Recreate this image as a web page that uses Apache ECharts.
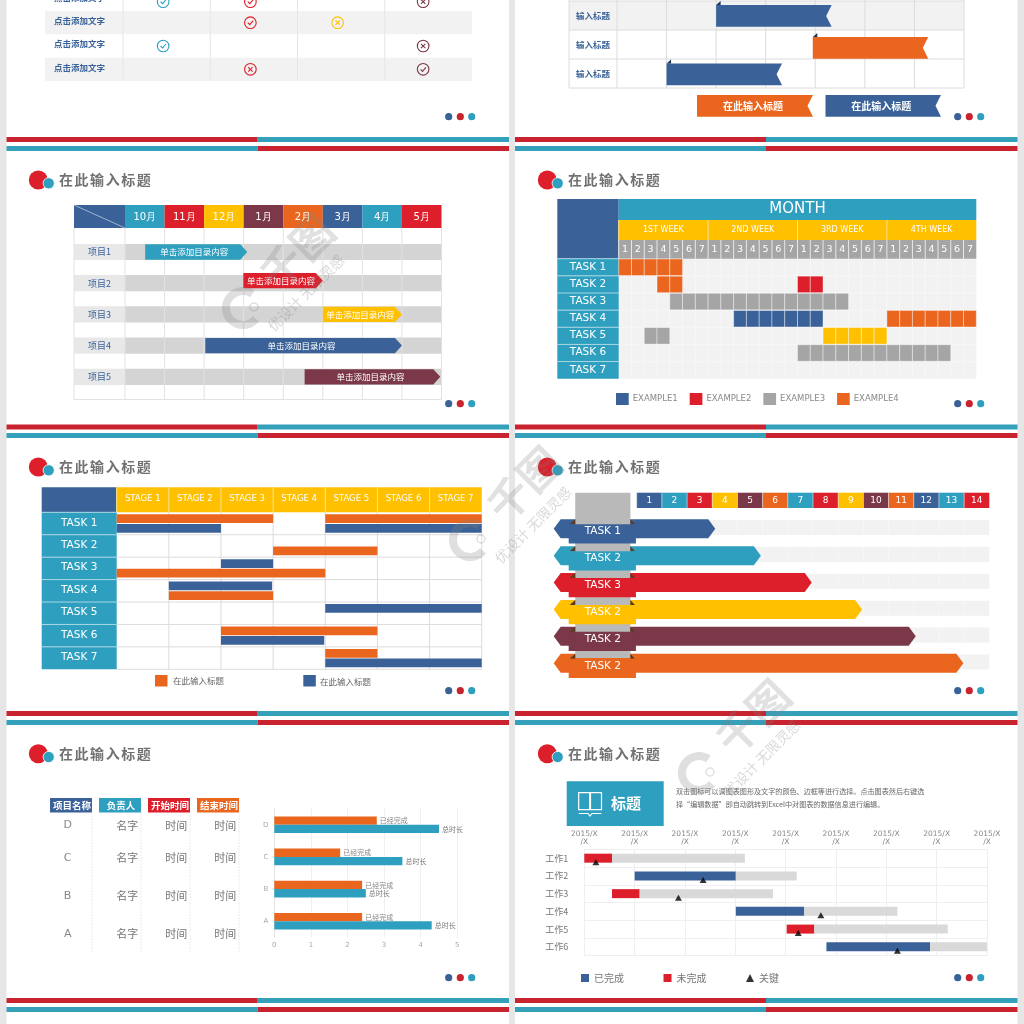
<!DOCTYPE html>
<html><head><meta charset="utf-8">
<style>html,body{margin:0;padding:0;background:#e6e6e6}#c{width:1024px;height:1024px}</style>
<script src="https://cdn.jsdelivr.net/npm/echarts@6/dist/echarts.min.js"></script>
</head><body><div id="c"></div>
<script>
// ---------- palette ----------
const BLUE='#3a6299',TEAL='#2e9fbf',RED='#dc1f2a',YEL='#ffc000',MAR='#7a3848',ORG='#ea661e',GRY='#a5a5a5';
const CJK='"Noto Sans CJK SC"',LAT='"DejaVu Sans"';
// ---------- panel A: status table ----------
const statusLabels=['点击添加文字','点击添加文字','点击添加文字','点击添加文字'];
const statusMarks=[[0,0.1,1,TEAL],[1,0.1,1,RED],[3,0.1,0,MAR],[1,1,1,RED],[2,1,0,YEL],[0,2,1,TEAL],[3,2,0,MAR],[1,3,0,RED],[3,3,1,MAR]];
// ---------- panel B: ribbon gantt ----------
const ribbonLabels=['输入标题','输入标题','输入标题'];
const ribbonBars=[[2,4.33,0.14,BLUE],[3.95,6.28,1.24,ORG],[1,3.33,2.155,BLUE]];
const ribbonLegend=[[1.614,3.954,3.24,ORG],[4.206,6.536,3.24,BLUE]];
// ---------- panel C: month gantt ----------
const months=['10月','11月','12月','1月','2月','3月','4月','5月'];
const monthColors=[TEAL,RED,YEL,MAR,ORG,BLUE,TEAL,RED];
const projects=['项目1','项目2','项目3','项目4','项目5'];
const projectBars=[[0.51,3.09,0,TEAL],[2.99,5,0.92,RED],[5,7,2,YEL],[2.03,7,3,BLUE],[4.54,7.97,4,MAR]];
const projectText='单击添加目录内容';
// ---------- panel D: day grid gantt ----------
const weeks=['1ST WEEK','2ND WEEK','3RD WEEK','4TH WEEK'];
const dayLabels=[1,2,3,4,5,6,7];
const tasks7=['TASK 1','TASK 2','TASK 3','TASK 4','TASK 5','TASK 6','TASK 7'];
const dayBlue=[[3,9,16]];
const dayRed=[[1,14,16]];
const dayGray=[[2,4,18],[4,2,4],[5,14,26]];
const dayOrange=[[0,0,5],[1,3,5],[3,21,28]];
const dayYellow=[[4,16,21]];
// ---------- panel E: stage gantt ----------
const stages=['STAGE 1','STAGE 2','STAGE 3','STAGE 4','STAGE 5','STAGE 6','STAGE 7'];
const stageOrange=[[0,0,3,-1],[0,4,7,-1],[1,3,5,1],[2,0,4,1],[3,1,3,1],[5,2,5,-1],[6,4,5,-1]];
const stageBlue=[[0,0,2,1],[0,4,7,1],[2,2,3,-1],[3,1,2.98,-1],[4,4,7,-1],[5,2,3.98,1],[6,4,7,1]];
// ---------- panel F: arrows ----------
const numbers=[1,2,3,4,5,6,7,8,9,10,11,12,13,14];
const numberColors=[BLUE,TEAL,RED,YEL,MAR,ORG,TEAL,RED,YEL,MAR,ORG,BLUE,TEAL,RED];
const arrowNames=['TASK 1','TASK 2','TASK 3','TASK 2','TASK 2','TASK 2'];
const arrowEnds=[3.12,4.93,6.95,8.95,11.08,12.97];
const arrowColors=[BLUE,TEAL,RED,YEL,MAR,ORG];
// ---------- panel G: table + bar chart ----------
const tableHead=['项目名称','负责人','开始时间','结束时间'];
const tableHeadColors=[BLUE,TEAL,RED,ORG];
const tableNames=['D','C','B','A'];
const tablePeople=['名字','名字','名字','名字'];
const tableTime=['时间','时间','时间','时间'];
const barCats=['A','B','C','D'];
const barDone=[2.4,2.4,1.8,2.8];
const barTotal=[4.3,2.5,3.5,4.5];
// ---------- panel H: work gantt ----------
const workCats=['工作1','工作2','工作3','工作4','工作5','工作6'];
const workTicks=['2015/X\n/X','2015/X\n/X','2015/X\n/X','2015/X\n/X','2015/X\n/X','2015/X\n/X','2015/X\n/X','2015/X\n/X','2015/X\n/X'];
const workStart=[0,1,0.55,3.01,4.02,4.81];
const workDone=[0,2.01,0,1.36,0,2.06];
const workTodo=[0.55,0,0.55,0,0.55,0];
const workRest=[2.64,1.21,2.65,1.85,2.65,1.15];
const workKey=[0.23,2.36,1.87,4.7,4.25,6.22];

// ---------- helpers ----------
const grids=[],xAxes=[],yAxes=[],series=[];
function addGrid(l,t,w,h,x0,x1,y0,y1){
  grids.push({left:l,top:t,width:w,height:h,containLabel:false});
  const i=grids.length-1;
  xAxes.push({type:'value',gridIndex:i,min:x0,max:x1,show:false,splitLine:{show:false}});
  yAxes.push({type:'value',gridIndex:i,min:y0,max:y1,inverse:true,show:false,splitLine:{show:false}});
  return i;
}
function cs(name,g,rows,draw,color,z){
  series.push({type:'custom',name,xAxisIndex:g,yAxisIndex:g,coordinateSystem:'cartesian2d',silent:true,clip:false,z:z||2,
    itemStyle:{color:color||'#999'},data:rows,
    renderItem:(p,api)=>({type:'group',children:draw(rows[p.dataIndex],p.dataIndex,(x,y)=>api.coord([x,y]))})});
}
function R(c,x0,x1,y0,y1,fill){const a=c(x0,y0),b=c(x1,y1);return {type:'rect',shape:{x:a[0],y:a[1],width:b[0]-a[0],height:b[1]-a[1]},style:{fill}};}
function L(c,x0,y0,x1,y1,stroke,w,dash){const a=c(x0,y0),b=c(x1,y1);return {type:'line',shape:{x1:a[0],y1:a[1],x2:b[0],y2:b[1]},style:{stroke,lineWidth:w||1,lineDash:dash||null}};}
function T(c,text,x,y,o){o=o||{};const a=c(x,y);return {type:'text',style:{text:String(text),x:a[0],y:a[1],fill:o.fill||'#fff',fontSize:o.size||9,fontFamily:o.family||CJK,fontWeight:o.weight||'normal',align:o.align||'center',verticalAlign:'middle'}};}
function P(points,fill){return {type:'polygon',shape:{points},style:{fill}};}

// ---------- panel A ----------
(function(){
  const g=addGrid(45,0,427,81,-0.894,4,0.528,4);
  cs('statusBands',g,[[1,0],[3,0]],(d,i,c)=>[R(c,-0.894,4,d[0],d[0]+1,'#f2f2f2')]);
  cs('statusLines',g,[[0,0],[1,0],[2,0],[3,0]],(d,i,c)=>[L(c,d[0],0.5,d[0],4,'#e6e6e6')]);
  cs('statusLabels',g,statusLabels.map((s,i)=>[i,0]),(d,i,c)=>[T(c,statusLabels[i],-0.79,d[0]+0.42,{fill:BLUE,size:8.5,weight:'bold',align:'left'})]);
  cs('statusMarks',g,statusMarks,(d,i,c)=>{
    const p=c(d[0]+0.46+(d[0]==3?-0.02:0),d[1]+0.5),col=d[3],r=5.8;
    const ring={type:'circle',shape:{cx:p[0],cy:p[1],r},style:{fill:'none',stroke:col,lineWidth:1.1}};
    const st={stroke:col,lineWidth:1.1,fill:'none'};
    if(d[2]) return [ring,{type:'polyline',shape:{points:[[p[0]-2.6,p[1]],[p[0]-0.6,p[1]+2],[p[0]+2.8,p[1]-2]]},style:st}];
    return [ring,{type:'line',shape:{x1:p[0]-2.2,y1:p[1]-2.2,x2:p[0]+2.2,y2:p[1]+2.2},style:st},{type:'line',shape:{x1:p[0]-2.2,y1:p[1]+2.2,x2:p[0]+2.2,y2:p[1]-2.2},style:st}];
  },'#999',3);
})();

// ---------- panel B ----------
(function(){
  const g=addGrid(569,1,395,116,-0.968,7,0,4);
  cs('ribbonBand',g,[[0,0]],(d,i,c)=>[R(c,-0.968,7,0,1,'#f2f2f2')]);
  cs('ribbonLines',g,[[0,0]],(d,i,c)=>{const o=[];
    for(let r=0;r<=3;r++)o.push(L(c,-0.968,r,7,r,'#dcdcdc'));
    [-0.968,0,1,2,3,4,5,6,7].forEach(x=>o.push(L(c,x,-0.1,x,3,'#dcdcdc')));return o;});
  cs('ribbonLabels',g,ribbonLabels.map((s,i)=>[i,0]),(d,i,c)=>[T(c,ribbonLabels[i],-0.484,d[0]+0.5,{fill:BLUE,size:8.5,weight:'bold'})]);
  function rib(d,withFlag,label){
    return (c)=>{const a=c(d[0],d[2]),b=c(d[1],d[2]+0.75),my=(a[1]+b[1])/2,o=[];
      o.push(P([[a[0],a[1]],[b[0],a[1]],[b[0]-5.5,my],[b[0],b[1]],[a[0],b[1]]],d[3]));
      if(withFlag)o.push(P([[a[0],a[1]],[a[0]+4.5,a[1]-4],[a[0]+4.5,a[1]]],'#1d3557'));
      if(label)o.push({type:'text',style:{text:label,x:(a[0]+b[0])/2-2,y:my,fill:'#fff',fontSize:10,fontWeight:'bold',fontFamily:CJK,align:'center',verticalAlign:'middle'}});
      return o;};
  }
  cs('ribbonBars',g,ribbonBars,(d,i,c)=>rib(d,true)(c),BLUE,3);
  cs('ribbonLegend',g,ribbonLegend,(d,i,c)=>rib(d,false,'在此输入标题')(c),BLUE,3);
})();

// ---------- panel C ----------
(function(){
  const xm=-1.289,g=addGrid(74,205,367.5,194.5,xm,8,-1.006,5.228);
  cs('projBands',g,projects.map((s,i)=>[i,0]),(d,i,c)=>[
    R(c,xm,0,d[0]+0.24,d[0]+0.76,'#e8e8e8'),R(c,0,8,d[0]+0.24,d[0]+0.76,'#d4d4d4'),
    T(c,projects[i],xm/2,d[0]+0.5,{fill:BLUE,size:9})]);
  cs('projLines',g,[[0,0]],(d,i,c)=>{const o=[];
    [xm,0,1,2,3,4,5,6,7,8].forEach(x=>o.push(L(c,x,-0.27,x,5.228,'#e2e2e2')));
    o.push(L(c,xm,5.228,8,5.228,'#e2e2e2'));return o;},'#999',3);
  cs('projCorner',g,[[0,0]],(d,i,c)=>[R(c,xm,0,-1.006,-0.269,BLUE),L(c,xm,-1.006,0,-0.269,'#9fb4d0')],BLUE,3);
  cs('months',g,months.map((s,i)=>[i,0]),(d,i,c)=>[R(c,d[0],d[0]+1,-1.006,-0.269,monthColors[i]),
    T(c,months[i],d[0]+0.5,-0.62,{size:10,family:LAT})],TEAL,3);
  cs('projBars',g,projectBars,(d,i,c)=>{const a=c(d[0],d[2]+0.255),b=c(d[1],d[2]+0.745),my=(a[1]+b[1])/2;
    return [P([[a[0],a[1]],[b[0]-7,a[1]],[b[0],my],[b[0]-7,b[1]],[a[0],b[1]]],d[3]),
      {type:'text',style:{text:projectText,x:(a[0]+b[0])/2-2,y:my,fill:'#fff',fontSize:8.5,fontFamily:CJK,align:'center',verticalAlign:'middle'}}];},TEAL,4);
})();

// ---------- panel D ----------
(function(){
  const xm=-4.808,ym=-3.483,g=addGrid(557.3,199,419,179.7,xm,28,ym,7);
  cs('dayBg',g,[[0,0]],(d,i,c)=>{const o=[R(c,0,28,0,7,'#f2f2f2')];
    for(let x=1;x<28;x++)o.push(L(c,x,0,x,7,'#f7f7f7',1));
    for(let y=1;y<7;y++)o.push(L(c,0,y,28,y,'#f7f7f7',1));
    o.push(R(c,xm,0,ym,0,BLUE));
    o.push(R(c,0,28,ym,-2.26,TEAL));
    o.push(T(c,'MONTH',14,-2.87,{size:15,family:LAT}));
    o.push(R(c,0,28,-2.26,-1.09,YEL));
    o.push(R(c,0,28,-1.09,0,GRY));
    return o;});
  cs('dayWeeks',g,weeks.map((s,i)=>[i,0]),(d,i,c)=>[L(c,d[0]*7,-2.26,d[0]*7,-1.09,'#ffe28a'),
    T(c,weeks[i],d[0]*7+3.5,-1.67,{size:8,family:LAT})],YEL,3);
  const days=[];for(let w=0;w<4;w++)dayLabels.forEach(n=>days.push([w*7+n-1,n]));
  cs('dayNums',g,days,(d,i,c)=>[L(c,d[0],-1.09,d[0],0,'#e8e8e8'),T(c,d[1],d[0]+0.5,-0.54,{size:9.5,family:LAT})],GRY,3);
  cs('dayTasks',g,tasks7.map((s,i)=>[i,0]),(d,i,c)=>[R(c,xm,0,d[0],d[0]+1,TEAL),L(c,xm,d[0],0,d[0],'#a9d6e4'),
    T(c,tasks7[i],xm/2,d[0]+0.48,{size:10.5,family:LAT})],TEAL,3);
  function cells(name,rows,color){
    cs(name,g,rows,(d,i,c)=>{const o=[];for(let x=d[1];x<d[2];x++){const r=R(c,x,x+1,d[0],d[0]+1,color);r.style.stroke='#fff';r.style.lineWidth=0.4;r.shape.y+=0.3;r.shape.height-=0.6;o.push(r);}return o;},color,4);
  }
  cells('EXAMPLE1',dayBlue,BLUE);cells('EXAMPLE2',dayRed,RED);cells('EXAMPLE3',dayGray,GRY);cells('EXAMPLE4',dayOrange,ORG);cells('EXAMPLE5',dayYellow,YEL);
})();

// ---------- panel E ----------
(function(){
  const xm=-1.438,ym=-1.115,g=addGrid(41.7,487.3,440,182,xm,7,ym,7);
  cs('stageLines',g,[[0,0]],(d,i,c)=>{const o=[];
    for(let y=1;y<=7;y++)o.push(L(c,0,y,7,y,'#dcdcdc',1));
    for(let x=1;x<=7;x++)o.push(L(c,x,0,x,7,'#dcdcdc',1));return o;});
  cs('stageCorner',g,[[0,0]],(d,i,c)=>[R(c,xm,0,ym,0,BLUE)],BLUE,3);
  cs('stages',g,stages.map((s,i)=>[i,0]),(d,i,c)=>[R(c,d[0],d[0]+1,ym,0,YEL),L(c,d[0],ym,d[0],0,'#ffe28a'),
    T(c,stages[i],d[0]+0.5,-0.6,{size:8.5,family:LAT})],YEL,3);
  cs('stageTasks',g,tasks7.map((s,i)=>[i,0]),(d,i,c)=>[R(c,xm,0,d[0],d[0]+1,TEAL),L(c,xm,d[0],0,d[0],'#a9d6e4'),
    T(c,tasks7[i],xm/2,d[0]+0.47,{size:10.5,family:LAT})],TEAL,3);
  const bar=col=>(d,i,c)=>{const m=d[0]+0.5+d[3]*0.215;return [R(c,d[1],d[2],m-0.195,m+0.195,col)];};
  cs('在此输入标题',g,stageOrange,bar(ORG),ORG,4);
  cs('在此输入标题B',g,stageBlue,bar(BLUE),BLUE,4);
})();

// ---------- panel F ----------
(function(){
  const xm=-3.295,g=addGrid(553.7,492.7,435.6,184,xm,14,-0.845,6);
  cs('numCells',g,numbers.map((s,i)=>[i,0]),(d,i,c)=>[R(c,d[0],d[0]+1,-0.845,-0.276,numberColors[i]),L(c,d[0],-0.845,d[0],-0.276,'#e8e8e8',0.6),
    T(c,numbers[i],d[0]+0.5,-0.55,{size:9,family:LAT})],BLUE);
  cs('numTracks',g,arrowEnds.map((s,i)=>[i,0]),(d,i,c)=>{const o=[R(c,0,14,d[0]+0.17,d[0]+0.73,'#f2f2f2')];
    for(let x=1;x<14;x++)o.push(L(c,x,d[0]+0.17,x,d[0]+0.73,'#f6f6f6'));return o;});
  cs('arrows',g,arrowEnds.map((e,i)=>[e,i]),(d,i,c)=>{const a=c(xm,d[1]+0.145),b=c(d[0],d[1]+0.85),my=(a[1]+b[1])/2;
    return [P([[a[0],my],[a[0]+7,a[1]],[b[0]-7,a[1]],[b[0],my],[b[0]-7,b[1]],[a[0]+7,b[1]]],arrowColors[i])];},BLUE,3);
  cs('arrowWrap',g,[[0,0]],(d,i,c)=>[R(c,-2.44,-0.25,-0.845,5.3,'#b9b9b9')],'#b9b9b9',4);
  cs('arrowTabs',g,arrowEnds.map((e,i)=>[i,0]),(d,i,c)=>{const t=c(-2.7,d[0]+0.33),b=c(-0.03,d[0]+1.045),l=c(-2.44,d[0]+0.145),r=c(-0.25,d[0]+0.145),col=arrowColors[i];
    return [P([[t[0]+1,t[1]],[l[0],t[1]],[l[0],l[1]]],'#5b3a1e'),P([[b[0]-1,t[1]],[r[0],t[1]],[r[0],r[1]]],'#5b3a1e'),
      {type:'rect',shape:{x:t[0],y:t[1],width:b[0]-t[0],height:b[1]-t[1]},style:{fill:col}},
      T(c,arrowNames[i],-1.345,d[0]+0.605,{size:10.5,family:LAT})];},BLUE,5);
})();

// ---------- panel G table ----------
(function(){
  const rowPos=[0.76,1.67,2.72,3.78];
  const g=addGrid(50,798,196,155,0,4,0,4.305);
  cs('tableHead',g,tableHead.map((s,i)=>[i,0]),(d,i,c)=>[R(c,d[0],d[0]+0.857,0,0.4,tableHeadColors[i]),
    T(c,tableHead[i],d[0]+0.45,0.2,{size:9.5,weight:'bold'}),
    L(c,d[0]+0.857,0.4,d[0]+0.857,4.305,'#dedede',0.8,[1.5,1.5])],BLUE);
  cs('tableRows',g,tableNames.map((s,i)=>[rowPos[i],0]),(d,i,c)=>[
    T(c,tableNames[i],0.36,d[0],{size:11,family:LAT,fill:'#888'}),
    T(c,tablePeople[i],1.578,d[0],{size:11,fill:'#777'}),
    T(c,tableTime[i],2.578,d[0],{size:11,fill:'#777'}),
    T(c,tableTime[i],3.578,d[0],{size:11,fill:'#777'})]);
})();
// ---------- panel G native bars ----------
const gi=grids.length;
grids.push({left:274.3,top:808.6,width:183,height:128.8});
xAxes.push({type:'value',gridIndex:gi,min:0,max:5,interval:1,axisLine:{show:false},axisTick:{show:false},splitLine:{lineStyle:{color:'#f0f0f0'}},axisLabel:{fontSize:7,color:'#aaa',margin:4,fontFamily:LAT}});
yAxes.push({type:'category',gridIndex:gi,data:barCats,axisTick:{show:false},axisLine:{lineStyle:{color:'#e4e4e4'}},axisLabel:{fontSize:7,color:'#aaa',margin:6,fontFamily:LAT}});
series.push({type:'bar',name:'已经完成',xAxisIndex:gi,yAxisIndex:gi,data:barDone,barWidth:8.3,barGap:'0%',itemStyle:{color:ORG},z:3,
  label:{show:true,position:'right',formatter:'已经完成',fontSize:7,color:'#888',distance:3,fontFamily:CJK}});
series.push({type:'bar',name:'总时长',xAxisIndex:gi,yAxisIndex:gi,data:barTotal,barWidth:8.3,barGap:'0%',itemStyle:{color:TEAL},z:3,
  label:{show:true,position:'right',formatter:'总时长',fontSize:7,color:'#777',distance:3,fontFamily:CJK}});

// ---------- panel H native gantt ----------
const hi=grids.length;
grids.push({left:584.3,top:849.3,width:402.7,height:106.4});
xAxes.push({type:'value',gridIndex:hi,position:'top',min:0,max:8,interval:1,axisLine:{show:false},axisTick:{show:false},splitLine:{lineStyle:{color:'#efefef'}},
  axisLabel:{formatter:(v)=>workTicks[v],fontSize:7.5,lineHeight:8,color:'#888',margin:3,fontFamily:LAT}});
yAxes.push({type:'category',gridIndex:hi,data:workCats,inverse:true,axisTick:{show:false},axisLine:{lineStyle:{color:'#efefef'}},splitLine:{show:true,lineStyle:{color:'#efefef'}},
  axisLabel:{fontSize:9,color:'#777',margin:16,fontFamily:CJK}});
const wb={type:'bar',xAxisIndex:hi,yAxisIndex:hi,stack:'w',barWidth:9,z:3};
series.push(Object.assign({},wb,{name:'start',data:workStart,itemStyle:{color:'rgba(0,0,0,0)'}}));
series.push(Object.assign({},wb,{name:'已完成',data:workDone,itemStyle:{color:BLUE}}));
series.push(Object.assign({},wb,{name:'未完成',data:workTodo,itemStyle:{color:RED}}));
series.push(Object.assign({},wb,{name:'rest',data:workRest,itemStyle:{color:'#d9d9d9'}}));
series.push({type:'scatter',name:'关键',xAxisIndex:hi,yAxisIndex:hi,symbol:'triangle',symbolSize:[7,6],symbolOffset:[0,4],z:5,itemStyle:{color:'#000'},
  data:workKey.map((v,i)=>[v,i])});

// ---------- slide chrome ----------
const el=[];
function rect(x,y,w,h,fill,z){el.push({type:'rect',shape:{x,y,width:w,height:h},style:{fill},z:z==null?0:z});}
function txt(text,x,y,o){el.push({type:'text',x,y,z:o.z==null?1:o.z,rotation:o.rot||0,style:{text,fill:o.fill,fontSize:o.size,fontFamily:o.family||CJK,fontWeight:o.weight||'normal',align:o.align||'left',verticalAlign:'middle'}});}
[[6.5,502.5,257.7],[515,502.5,766]].forEach(a=>{
  rect(a[0],0,a[1],1024,'#fff',0);
  [[137,RED,TEAL],[146,TEAL,RED],[424.5,RED,TEAL],[433,TEAL,RED],[711,RED,TEAL],[720,TEAL,RED],[998,RED,TEAL],[1007,TEAL,RED]].forEach(s=>{
    const ca=s[1]==RED?'#c8232e':'#35a0ba',cb=s[2]==RED?'#c8232e':'#35a0ba';
    rect(a[0],s[0],a[2]-a[0],5,ca,1);rect(a[2],s[0],a[0]+a[1]-a[2],5,cb,1);});
});
[0,509].forEach(dx=>{
  [180,467,753.7].forEach(y=>{
    el.push({type:'circle',shape:{cx:38.3+dx,cy:y,r:9.5},style:{fill:RED},z:5});
    el.push({type:'circle',shape:{cx:48.7+dx,cy:y+3.3,r:5.6},style:{fill:TEAL,stroke:'#fff',lineWidth:0.8},z:6});
    '在此输入标题'.split('').forEach((ch,i)=>txt(ch,59+dx+i*15.55,y,{fill:'#717171',size:14,weight:'bold',z:5}));
  });
  [116.7,403.7,690.7,977.7].forEach(y=>{
    [[448.7,BLUE],[460.3,'#c8232e'],[471.7,TEAL]].forEach(d=>el.push({type:'circle',shape:{cx:d[0]+dx,cy:y,r:3.6},style:{fill:d[1]},z:5}));
  });
});
// legends of panel E
rect(155,675,12.5,11.5,ORG,5);txt('在此输入标题',173,681,{fill:'#666',size:8.5,z:5});
rect(303.3,675,12.5,11.5,BLUE,5);txt('在此输入标题',320,681.5,{fill:'#666',size:8.5,z:5});
// headline box panel H
rect(566.7,781.3,97,44.7,TEAL,5);
[[578.7,792.7],[590.5,792.7]].forEach(p=>el.push({type:'rect',shape:{x:p[0],y:p[1],width:11,height:17},style:{fill:'none',stroke:'#fff',lineWidth:1.2},z:6}));
el.push({type:'polyline',shape:{points:[[578.7,813.5],[588,813.5],[590,816],[592,813.5],[601.5,813.5]]},style:{fill:'none',stroke:'#fff',lineWidth:1.2},z:6});
txt('标题',611,803,{fill:'#fff',size:15,weight:'bold',z:6});
txt('双击图标可以调图表图形及文字的颜色、边框等进行选择。点击图表然后右键选',676,791.5,{fill:'#666',size:7.1,z:5});
txt('择“编辑数据”即自动跳转到Excel中对图表的数据信息进行编辑。',676,804.7,{fill:'#666',size:7.1,z:5});
// watermarks
[[243,308],[470,540],[699,773]].forEach(w=>{
  el.push({type:'arc',shape:{cx:w[0],cy:w[1],r:17,startAngle:0.7,endAngle:5.3,clockwise:true},style:{fill:'none',stroke:'rgba(130,130,130,0.26)',lineWidth:8},z:50});
  el.push({type:'circle',shape:{cx:w[0]+11,cy:w[1]-1,r:4},style:{fill:'none',stroke:'rgba(130,130,130,0.26)',lineWidth:1.5},z:50});
  txt('千图',w[0]+54,w[1]-56,{fill:'rgba(130,130,130,0.24)',size:42,weight:'bold',align:'center',rot:Math.PI/4,z:50});
  txt('优设计 无限灵感',w[0]+63,w[1]-15,{fill:'rgba(130,130,130,0.3)',size:14,align:'center',rot:Math.PI/4,z:50});
});

const chart=echarts.init(document.getElementById('c'),null,{renderer:'canvas'});
chart.setOption({
  animation:false,backgroundColor:'#e6e6e6',tooltip:{show:false},
  grid:grids,xAxis:xAxes,yAxis:yAxes,series,
  legend:[
    {data:['EXAMPLE1','EXAMPLE2','EXAMPLE3','EXAMPLE4'],left:616,top:393,itemWidth:12.7,itemHeight:12,itemGap:12,icon:'rect',selectedMode:false,padding:0,itemStyle:{},textStyle:{fontSize:8.5,color:'#888',fontFamily:LAT,padding:[0,0,0,-1]}},
    {data:[{name:'已完成',icon:'rect'},{name:'未完成',icon:'rect'},{name:'关键',icon:'triangle'}],left:581,top:973,itemWidth:8,itemHeight:8,itemGap:39.5,selectedMode:false,padding:0,textStyle:{fontSize:10,color:'#777',fontFamily:CJK}}
  ],
  graphic:{elements:el}
});
</script></body></html>
